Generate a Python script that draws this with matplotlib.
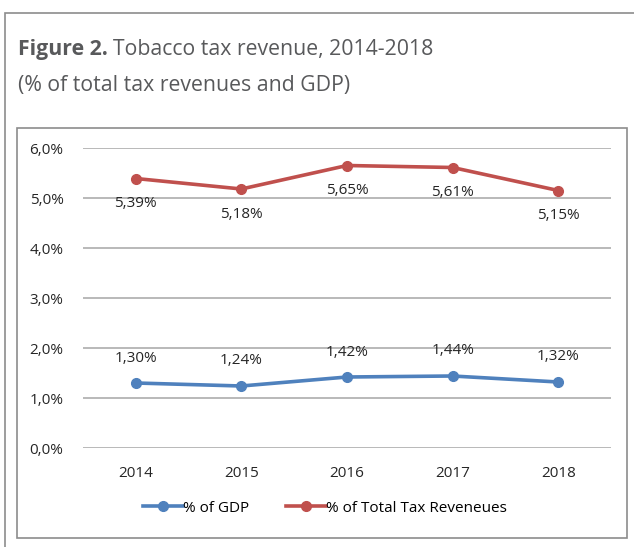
import matplotlib.pyplot as plt
from matplotlib.patches import Rectangle

years = ['2014', '2015', '2016', '2017', '2018']
gdp = [1.30, 1.24, 1.42, 1.44, 1.32]
total_tax = [5.39, 5.18, 5.65, 5.61, 5.15]
yticks = [0, 1, 2, 3, 4, 5, 6]

W, H = 634, 547
fig = plt.figure(figsize=(W / 100, H / 100), dpi=100)
plt.rcParams['font.family'] = ['Open Sans', 'DejaVu Sans']

# outer frame and chart box
fig.patches.append(Rectangle((5 / W, -0.01), 1.2, (H - 13) / H + 0.01, transform=fig.transFigure,
                             fill=False, ec='#8c8c8c', lw=1.2))
fig.patches.append(Rectangle((17 / W, (H - 538) / H), (627 - 17) / W, (538 - 128) / H,
                             transform=fig.transFigure, fill=False, ec='#8c8c8c', lw=1.2))

tcol = '#58595b'
fig.text(18 / W, 1 - 50 / H, 'Figure 2.', fontsize=15.3, fontweight='bold', color=tcol, va='center')
fig.text(113 / W, 1 - 50 / H, 'Tobacco tax revenue, 2014-2018', fontsize=15.3, color=tcol, va='center')
fig.text(18 / W, 1 - 85 / H, '(% of total tax revenues and GDP)', fontsize=15.3, color=tcol, va='center')

ax = fig.add_axes([83 / W, (H - 448) / H, (611 - 83) / W, 300 / H])
x = range(len(years))
blue, red = '#4f81bd', '#c0504d'
ax.plot(x, gdp, color=blue, lw=2.6, marker='o', ms=7, label='% of GDP')
ax.plot(x, total_tax, color=red, lw=2.6, marker='o', ms=7, label='% of Total Tax Reveneues')

for i, v in enumerate(gdp):
    ax.annotate(f'{v:.2f}%'.replace('.', ','), (i, v), xytext=(0, 25), textcoords='offset pixels',
                ha='center', va='center', fontsize=11, color='#262626')
for i, v in enumerate(total_tax):
    ax.annotate(f'{v:.2f}%'.replace('.', ','), (i, v), xytext=(0, -25), textcoords='offset pixels',
                ha='center', va='center', fontsize=11, color='#262626')

ax.set_xlim(-0.5, 4.5)
ax.set_ylim(0, 6)
ax.set_yticks(yticks)
ax.set_yticklabels([f'{t:.1f}%'.replace('.', ',') for t in yticks])
ax.set_xticks(list(x))
ax.set_xticklabels(years)
ax.tick_params(length=0, labelsize=11, colors='#262626')
ax.tick_params(axis='x', pad=13)
ax.tick_params(axis='y', pad=14)
ax.grid(axis='y', color='#a6a6a6', lw=1.1)
ax.set_axisbelow(True)
for s in ax.spines.values():
    s.set_visible(False)

ax.legend(loc='center', bbox_to_anchor=(325 / W, 1 - 508 / H), bbox_transform=fig.transFigure,
          ncol=2, frameon=False, fontsize=11, handlelength=2.6, handletextpad=0.0, columnspacing=2.4)

fig.savefig('out.png', dpi=100)
